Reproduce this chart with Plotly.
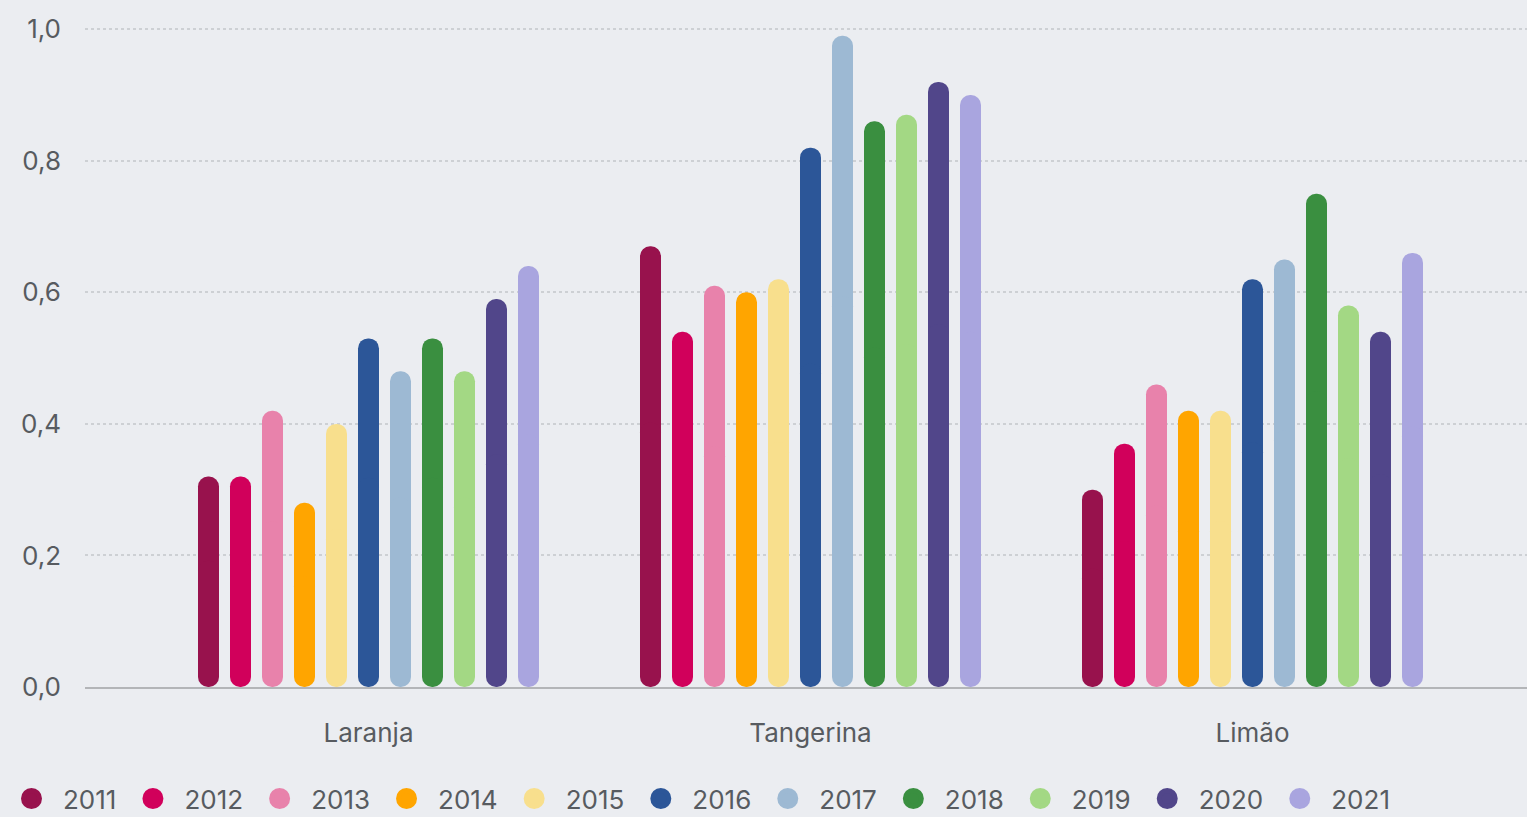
import plotly.graph_objects as go

categories = ["Laranja", "Tangerina", "Limão"]
years = ["2011", "2012", "2013", "2014", "2015", "2016", "2017", "2018", "2019", "2020", "2021"]

v2011 = [0.32, 0.67, 0.30]
v2012 = [0.32, 0.54, 0.37]
v2013 = [0.42, 0.61, 0.46]
v2014 = [0.28, 0.60, 0.42]
v2015 = [0.40, 0.62, 0.42]
v2016 = [0.53, 0.82, 0.62]
v2017 = [0.48, 0.99, 0.65]
v2018 = [0.53, 0.86, 0.75]
v2019 = [0.48, 0.87, 0.58]
v2020 = [0.59, 0.92, 0.54]
v2021 = [0.64, 0.90, 0.66]

colors = ["#98124d", "#d1005b", "#e882ab", "#ffa500", "#f8df8d", "#2c5698",
          "#9db9d3", "#3a8f40", "#a3d884", "#51468a", "#a9a5df"]

series = [v2011, v2012, v2013, v2014, v2015, v2016, v2017, v2018, v2019, v2020, v2021]

FONT = "Inter"
TXT = "#575b60"
BG = "#ebedf1"

fig = go.Figure()
for yr, vals, col in zip(years, series, colors):
    # upper part: rounded top
    fig.add_trace(go.Bar(
        x=categories, y=[0.6 * v for v in vals], base=[0.4 * v for v in vals],
        offsetgroup=yr, marker=dict(color=col, cornerradius="50%", line=dict(width=0)),
        showlegend=False, hoverinfo="skip"))
    # lower part: rounded bottom
    fig.add_trace(go.Bar(
        x=categories, y=[-0.6 * v for v in vals], base=[0.6 * v for v in vals],
        offsetgroup=yr, marker=dict(color=col, cornerradius="50%", line=dict(width=0)),
        showlegend=False, hoverinfo="skip"))
    # legend entry
    fig.add_trace(go.Scatter(
        x=[None], y=[None], mode="markers", name=yr,
        marker=dict(symbol="circle", size=16, color=col, line=dict(color=col, width=5))))

fig.update_layout(
    width=1527, height=817,
    paper_bgcolor=BG, plot_bgcolor=BG,
    margin=dict(l=85, r=0, t=26, b=130),
    barmode="group", bargap=0.203620, bargroupgap=0.34375,
    separators=",.",
    font=dict(family=FONT, color=TXT, size=22),
    xaxis=dict(type="category", range=[-0.641403, 2.621040], showgrid=False,
               showline=True, linecolor="#b3b5b8", linewidth=2,
               ticks="", ticklabelstandoff=22, tickfont=dict(size=26, color=TXT)),
    yaxis=dict(range=[0, 1.005], tickvals=[0, 0.2, 0.4, 0.6, 0.8, 1.0], tickformat=".1f",
               showgrid=True, gridcolor="#cdd0d4", gridwidth=1.5, griddash="dot",
               zeroline=False, showline=False, ticks="", ticklabelstandoff=23,
               tickfont=dict(size=26, color=TXT)),
    legend=dict(orientation="h", xref="container", yref="container",
                x=-0.0013, xanchor="left", y=0.0225, yanchor="middle",
                font=dict(size=26, color=TXT), bgcolor="rgba(0,0,0,0)", itemwidth=53,
                itemclick=False, itemdoubleclick=False, traceorder="normal"),
    showlegend=True,
)

fig.write_html("out.html", config={"displayModeBar": False},
               post_script="document.body.style.margin='0';document.body.style.overflow='hidden';")
